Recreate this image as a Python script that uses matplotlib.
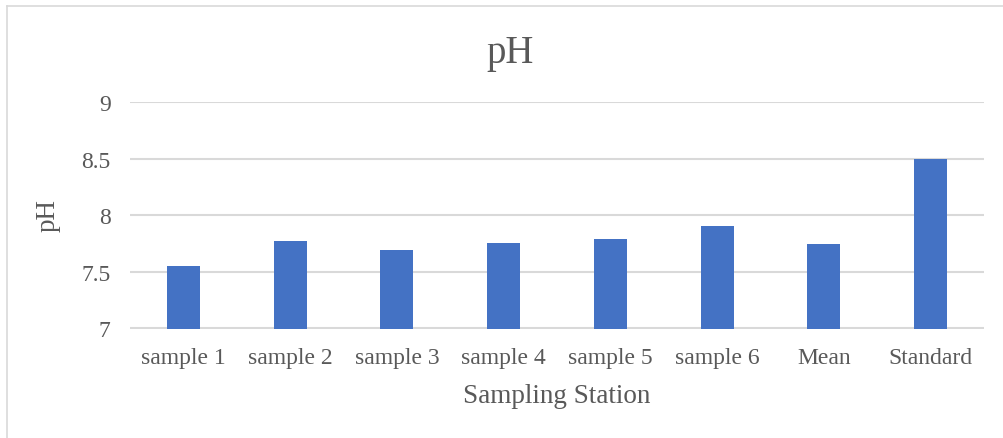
import matplotlib
matplotlib.use("Agg")
import matplotlib.pyplot as plt
from matplotlib.lines import Line2D

categories = ["sample 1", "sample 2", "sample 3", "sample 4", "sample 5", "sample 6", "Mean", "Standard"]
ph_values = [7.55, 7.77, 7.69, 7.76, 7.79, 7.91, 7.75, 8.5]
y_ticks = [7, 7.5, 8, 8.5, 9]
y_tick_labels = ["7", "7.5", "8", "8.5", "9"]

plt.rcParams['font.family'] = ['Liberation Serif', 'DejaVu Serif']
text_color = "#595959"

fig = plt.figure(figsize=(10.04, 4.39), dpi=100)
ax = fig.add_axes([130/1004, 1 - 329.5/439, (984-130)/1004, (329.5-103.3)/439])

x = list(range(len(categories)))
ax.bar(x, [v - 7 for v in ph_values], bottom=7, width=0.31, color="#4472C4", zorder=3)
ax.set_xlim(-0.5, len(categories) - 0.5)
ax.set_ylim(7, 9)
ax.set_yticks(y_ticks)
ax.set_yticklabels(y_tick_labels)
ax.set_xticks(x)
ax.set_xticklabels(categories)
ax.tick_params(axis='both', length=0, labelsize=17, colors=text_color)
ax.tick_params(axis='y', pad=14)
ax.tick_params(axis='x', pad=13)
ax.grid(axis='y', color="#d9d9d9", linewidth=1.5, zorder=0)
for s in ax.spines.values():
    s.set_visible(False)

fig.text(557/1004, 1 - 397/439, "Sampling Station", ha='center', va='center', fontsize=19.5, color=text_color)
fig.text(48/1004, 1 - 215/439, "pH", ha='center', va='center', rotation=90, fontsize=19.5, color=text_color)
fig.text(510/1004, 1 - 54/439, "pH", ha='center', va='center', fontsize=28, color=text_color)

# chart border (top and left)
fig.add_artist(Line2D([7/1004, 1.0], [1 - 7/439, 1 - 7/439], transform=fig.transFigure, color="#d9d9d9", linewidth=1.2))
fig.add_artist(Line2D([7/1004, 7/1004], [1 - 7/439, 0], transform=fig.transFigure, color="#d9d9d9", linewidth=1.2))

fig.savefig("out.png", dpi=100)
